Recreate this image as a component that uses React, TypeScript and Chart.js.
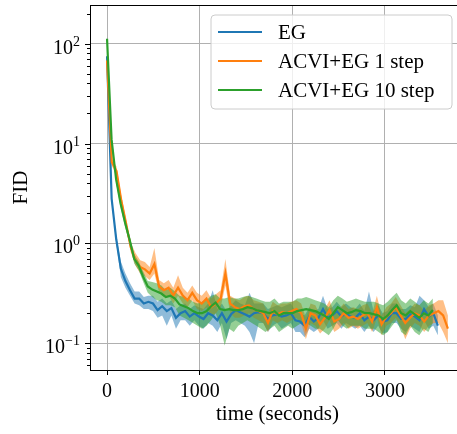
import React, { useEffect, useRef } from 'react';
import { Chart, registerables } from 'chart.js';

Chart.register(...registerables);

const FONT = "'Liberation Serif', 'DejaVu Serif', serif";

const seriesLabels = ['EG', 'ACVI+EG 1 step', 'ACVI+EG 10 step'];
const seriesColors = ['#1f77b4', '#ff7f0e', '#2ca02c'];
const bandColors = ['rgba(31,119,180,0.5)', 'rgba(255,127,14,0.5)', 'rgba(44,160,44,0.5)'];
// seconds between logged evaluations for each method
const secondsPerLog = [49.6, 51.1, 48.85];

const egMean = [
  75, 2.8, 1.1, 0.56, 0.42, 0.34, 0.28, 0.28, 0.25, 0.26,
  0.25, 0.215, 0.235, 0.21, 0.225, 0.18, 0.2, 0.21, 0.185, 0.2,
  0.185, 0.175, 0.2, 0.19, 0.17, 0.2, 0.165, 0.195, 0.215, 0.205,
  0.195, 0.185, 0.2, 0.205, 0.2, 0.175, 0.19, 0.195, 0.185, 0.19,
  0.2, 0.17, 0.165, 0.15, 0.185, 0.165, 0.18, 0.22, 0.18, 0.19,
  0.21, 0.185, 0.2, 0.185, 0.18, 0.2, 0.17, 0.185, 0.17, 0.19,
  0.165, 0.17, 0.2, 0.2, 0.175, 0.175, 0.195, 0.185, 0.17, 0.22,
  0.185, 0.2, 0.15,
];
const egLow = [
  70, 2.6, 1.0, 0.46, 0.36, 0.3, 0.25, 0.24, 0.22, 0.22,
  0.21, 0.18, 0.19, 0.15, 0.19, 0.14, 0.17, 0.17, 0.15, 0.17,
  0.15, 0.14, 0.16, 0.15, 0.13, 0.16, 0.11, 0.16, 0.17, 0.16,
  0.15, 0.13, 0.1, 0.16, 0.16, 0.13, 0.15, 0.16, 0.14, 0.15,
  0.16, 0.13, 0.13, 0.115, 0.14, 0.13, 0.14, 0.17, 0.14, 0.15,
  0.16, 0.14, 0.16, 0.15, 0.14, 0.15, 0.13, 0.15, 0.13, 0.15,
  0.125, 0.13, 0.16, 0.16, 0.14, 0.13, 0.15, 0.14, 0.13, 0.17,
  0.14, 0.15, 0.12,
];
const egHigh = [
  80, 3.0, 1.2, 0.66, 0.5, 0.4, 0.33, 0.33, 0.29, 0.3,
  0.3, 0.26, 0.28, 0.25, 0.27, 0.22, 0.24, 0.25, 0.22, 0.24,
  0.23, 0.22, 0.25, 0.34, 0.22, 0.25, 0.21, 0.24, 0.27, 0.25,
  0.24, 0.32, 0.25, 0.25, 0.25, 0.22, 0.23, 0.24, 0.23, 0.24,
  0.25, 0.21, 0.2, 0.19, 0.23, 0.21, 0.22, 0.3, 0.22, 0.23,
  0.26, 0.23, 0.25, 0.23, 0.22, 0.25, 0.21, 0.33, 0.21, 0.24,
  0.2, 0.21, 0.25, 0.25, 0.22, 0.22, 0.24, 0.23, 0.3, 0.27,
  0.23, 0.25, 0.19,
];

const acvi1Mean = [
  68, 6.5, 5.3, 2.7, 1.6, 0.92, 0.68, 0.58, 0.55, 0.5,
  0.62, 0.37, 0.34, 0.36, 0.3, 0.36, 0.3, 0.27, 0.32, 0.27,
  0.25, 0.28, 0.23, 0.25, 0.28, 0.5, 0.25, 0.23, 0.22, 0.235,
  0.24, 0.22, 0.21, 0.2, 0.16, 0.21, 0.195, 0.205, 0.2, 0.21,
  0.22, 0.2, 0.14, 0.2, 0.19, 0.155, 0.18, 0.215, 0.165, 0.175,
  0.2, 0.18, 0.185, 0.175, 0.19, 0.2, 0.165, 0.23, 0.155, 0.185,
  0.2, 0.23, 0.19, 0.16, 0.18, 0.2, 0.19, 0.165, 0.19, 0.2,
  0.21, 0.19, 0.14,
];
const acvi1Low = [
  62, 6.0, 4.8, 2.4, 1.45, 0.82, 0.6, 0.5, 0.47, 0.43,
  0.5, 0.32, 0.29, 0.3, 0.25, 0.3, 0.25, 0.23, 0.27, 0.22,
  0.21, 0.23, 0.19, 0.2, 0.23, 0.38, 0.2, 0.18, 0.18, 0.19,
  0.2, 0.18, 0.17, 0.16, 0.13, 0.17, 0.16, 0.17, 0.16, 0.17,
  0.18, 0.16, 0.11, 0.16, 0.15, 0.125, 0.14, 0.17, 0.13, 0.14,
  0.16, 0.14, 0.15, 0.14, 0.15, 0.16, 0.13, 0.18, 0.12, 0.15,
  0.16, 0.18, 0.15, 0.11, 0.14, 0.16, 0.15, 0.13, 0.15, 0.16,
  0.16, 0.13, 0.1,
];
const acvi1High = [
  74, 7.0, 5.9, 3.0, 1.75, 1.02, 0.8, 0.68, 0.65, 0.58,
  0.9, 0.43, 0.4, 0.43, 0.36, 0.48, 0.36, 0.32, 0.38, 0.32,
  0.3, 0.34, 0.28, 0.31, 0.34, 0.7, 0.3, 0.28, 0.27, 0.29,
  0.3, 0.27, 0.26, 0.25, 0.2, 0.26, 0.24, 0.25, 0.25, 0.26,
  0.27, 0.25, 0.18, 0.25, 0.24, 0.19, 0.22, 0.27, 0.2, 0.22,
  0.25, 0.22, 0.23, 0.22, 0.24, 0.25, 0.2, 0.3, 0.19, 0.23,
  0.25, 0.29, 0.24, 0.2, 0.22, 0.25, 0.24, 0.21, 0.24, 0.25,
  0.27, 0.27, 0.19,
];

const acvi10Mean = [
  112, 11, 4.4, 2.5, 1.6, 1.08, 0.7, 0.6, 0.46, 0.37,
  0.345, 0.33, 0.315, 0.29, 0.3, 0.28, 0.245, 0.235, 0.225, 0.21,
  0.2, 0.2, 0.21, 0.235, 0.255, 0.22, 0.215, 0.22, 0.215, 0.215,
  0.22, 0.23, 0.225, 0.215, 0.21, 0.205, 0.2, 0.21, 0.19, 0.2,
  0.2, 0.2, 0.21, 0.215, 0.22, 0.215, 0.21, 0.2, 0.19, 0.175,
  0.2, 0.23, 0.215, 0.2, 0.205, 0.215, 0.21, 0.2, 0.2, 0.195,
  0.19, 0.175, 0.19, 0.215, 0.24, 0.2, 0.19, 0.21, 0.195, 0.18,
  0.2, 0.19, 0.215,
];
const acvi10Low = [
  105, 10, 4.0, 2.3, 1.45, 0.98, 0.63, 0.54, 0.41, 0.32,
  0.29, 0.27, 0.26, 0.24, 0.24, 0.23, 0.19, 0.18, 0.17, 0.16,
  0.15, 0.14, 0.15, 0.17, 0.2, 0.15, 0.095, 0.14, 0.13, 0.15,
  0.16, 0.17, 0.16, 0.15, 0.14, 0.13, 0.14, 0.15, 0.13, 0.14,
  0.15, 0.14, 0.15, 0.16, 0.16, 0.15, 0.14, 0.14, 0.13, 0.12,
  0.14, 0.17, 0.15, 0.14, 0.15, 0.15, 0.15, 0.14, 0.14, 0.14,
  0.13, 0.12, 0.13, 0.15, 0.17, 0.13, 0.12, 0.15, 0.13, 0.12,
  0.14, 0.13, 0.16,
];
const acvi10High = [
  118, 12, 4.8, 2.7, 1.75, 1.18, 0.78, 0.66, 0.52, 0.42,
  0.41, 0.4, 0.38, 0.34, 0.36, 0.33, 0.3, 0.29, 0.28, 0.26,
  0.25, 0.26, 0.27, 0.3, 0.31, 0.28, 0.28, 0.29, 0.28, 0.28,
  0.29, 0.3, 0.29, 0.28, 0.27, 0.26, 0.26, 0.28, 0.25, 0.26,
  0.26, 0.26, 0.28, 0.28, 0.29, 0.28, 0.27, 0.26, 0.25, 0.23,
  0.27, 0.3, 0.28, 0.26, 0.27, 0.28, 0.27, 0.26, 0.26, 0.26,
  0.25, 0.24, 0.26, 0.29, 0.32, 0.27, 0.25, 0.28, 0.26, 0.24,
  0.27, 0.25, 0.28,
];

const xTicks = [0, 1000, 2000, 3000];
const xMin = -184;
const xMax = 3864;
const yMin = 0.054;
const yMax = 244;
const yMajorTicks = [0.1, 1, 10, 100];
const yMajorExponents = ['\u22121', '0', '1', '2'];
const yMinorTicks = [
  0.06, 0.07, 0.08, 0.09,
  0.2, 0.3, 0.4, 0.5, 0.6, 0.7, 0.8, 0.9,
  2, 3, 4, 5, 6, 7, 8, 9,
  20, 30, 40, 50, 60, 70, 80, 90,
  200,
];

const means = [egMean, acvi1Mean, acvi10Mean];
const lows = [egLow, acvi1Low, acvi10Low];
const highs = [egHigh, acvi1High, acvi10High];

const toPoints = (vals: number[], step: number) => vals.map((v, i) => ({ x: i * step, y: v }));

function buildDatasets() {
  const bands: any[] = [];
  const lines: any[] = [];
  for (let s = 0; s < 3; s++) {
    const step = secondsPerLog[s];
    bands.push({
      data: toPoints(lows[s], step),
      borderWidth: 0,
      pointRadius: 0,
      fill: false,
      borderColor: 'rgba(0,0,0,0)',
      order: 10 - s,
    });
    bands.push({
      data: toPoints(highs[s], step),
      borderWidth: 0,
      pointRadius: 0,
      fill: '-1',
      borderColor: 'rgba(0,0,0,0)',
      backgroundColor: bandColors[s],
      order: 10 - s,
    });
    lines.push({
      label: seriesLabels[s],
      data: toPoints(means[s], step),
      borderColor: seriesColors[s],
      backgroundColor: seriesColors[s],
      borderWidth: 2.2,
      pointRadius: 0,
      fill: false,
      tension: 0,
      order: 5 - s,
    });
  }
  return [...bands, ...lines];
}

const decorPlugin = {
  id: 'decor',
  afterDraw(chart: any) {
    const { ctx, chartArea: a } = chart;
    const y = chart.scales.y;
    ctx.save();
    // top spine
    ctx.strokeStyle = '#000';
    ctx.lineWidth = 1;
    ctx.beginPath();
    ctx.moveTo(a.left, Math.round(a.top) + 0.5);
    ctx.lineTo(a.right, Math.round(a.top) + 0.5);
    ctx.stroke();

    // y tick marks
    const drawTick = (v: number, len: number) => {
      const p = Math.round(y.getPixelForValue(v)) + 0.5;
      if (p < a.top - 1 || p > a.bottom + 1) return;
      ctx.beginPath();
      ctx.moveTo(a.left - len, p);
      ctx.lineTo(a.left, p);
      ctx.stroke();
    };
    yMinorTicks.forEach((v) => drawTick(v, 3));
    yMajorTicks.forEach((v) => drawTick(v, 5));

    // y labels 10^k
    ctx.fillStyle = '#000';
    ctx.textAlign = 'right';
    ctx.textBaseline = 'alphabetic';
    yMajorTicks.forEach((v, i) => {
      const p = y.getPixelForValue(v);
      const xr = a.left - 10;
      ctx.font = `14px ${FONT}`;
      const exp = yMajorExponents[i];
      const ew = ctx.measureText(exp).width;
      ctx.fillText(exp, xr, p + 2);
      ctx.font = `20px ${FONT}`;
      ctx.fillText('10', xr - ew, p + 10);
    });

    // legend
    const bw = 241;
    const bh = 94;
    const bx = a.right - 13 - bw;
    const by = a.top + 10;
    const r = 4;
    ctx.beginPath();
    ctx.moveTo(bx + r, by);
    ctx.lineTo(bx + bw - r, by);
    ctx.arcTo(bx + bw, by, bx + bw, by + r, r);
    ctx.lineTo(bx + bw, by + bh - r);
    ctx.arcTo(bx + bw, by + bh, bx + bw - r, by + bh, r);
    ctx.lineTo(bx + r, by + bh);
    ctx.arcTo(bx, by + bh, bx, by + bh - r, r);
    ctx.lineTo(bx, by + r);
    ctx.arcTo(bx, by, bx + r, by, r);
    ctx.closePath();
    ctx.fillStyle = 'rgba(255,255,255,0.8)';
    ctx.fill();
    ctx.strokeStyle = '#cccccc';
    ctx.lineWidth = 1;
    ctx.stroke();

    ctx.font = `21px ${FONT}`;
    ctx.textAlign = 'left';
    ctx.textBaseline = 'middle';
    seriesLabels.forEach((lab, i) => {
      const cy = by + 17 + i * 29;
      ctx.strokeStyle = seriesColors[i];
      ctx.lineWidth = 2.2;
      ctx.beginPath();
      ctx.moveTo(bx + 7, cy);
      ctx.lineTo(bx + 51, cy);
      ctx.stroke();
      ctx.fillStyle = '#000';
      ctx.fillText(lab, bx + 67, cy + 1);
    });
    ctx.restore();
  },
};

export default function App() {
  const ref = useRef<HTMLCanvasElement | null>(null);
  useEffect(() => {
    if (!ref.current) return;
    const majorSet = new Set(yMajorTicks);
    const chart = new Chart(ref.current, {
      type: 'line',
      data: { datasets: buildDatasets() },
      options: {
        animation: false,
        responsive: false,
        maintainAspectRatio: false,
        events: [],
        layout: { padding: { left: 0, right: 15, top: 5, bottom: 0 } },
        plugins: {
          legend: { display: false },
          tooltip: { enabled: false },
        },
        scales: {
          x: {
            type: 'linear',
            min: xMin,
            max: xMax,
            afterBuildTicks: (s: any) => {
              s.ticks = xTicks.map((v) => ({ value: v }));
            },
            afterFit: (s: any) => {
              s.height = 64;
            },
            ticks: {
              autoSkip: false,
              maxRotation: 0,
              color: '#000',
              padding: 5,
              font: { family: FONT, size: 20 },
              callback: (v: any) => String(v),
            },
            grid: {
              color: '#b0b0b0',
              lineWidth: 1,
              drawTicks: true,
              tickLength: 5,
              tickColor: '#000',
              tickWidth: 1,
            },
            border: { color: '#000', width: 1 },
            title: {
              display: true,
              text: 'time (seconds)',
              color: '#000',
              font: { family: FONT, size: 21 },
              padding: { top: 0, bottom: 7 },
            },
          },
          y: {
            type: 'logarithmic',
            min: yMin,
            max: yMax,
            afterBuildTicks: (s: any) => {
              s.ticks = [...yMinorTicks, ...yMajorTicks]
                .sort((p, q) => p - q)
                .map((v) => ({ value: v, major: majorSet.has(v) }));
            },
            afterFit: (s: any) => {
              s.width = 90;
            },
            ticks: { display: false },
            grid: {
              color: (c: any) => (c.tick && majorSet.has(c.tick.value) ? '#b0b0b0' : 'rgba(0,0,0,0)'),
              lineWidth: 1,
              drawTicks: false,
            },
            border: { color: '#000', width: 1 },
            title: {
              display: true,
              text: 'FID',
              color: '#000',
              font: { family: FONT, size: 21 },
              padding: { top: 9, bottom: 0 },
            },
          },
        },
      },
      plugins: [decorPlugin],
    } as any);
    return () => chart.destroy();
  }, []);
  return (
    <div style={{ position: 'absolute', left: 0, top: 0, width: 457, height: 434, overflow: 'hidden', background: '#fff' }}>
      <canvas ref={ref} width={480} height={434} style={{ width: 480, height: 434, display: 'block' }} />
    </div>
  );
}
